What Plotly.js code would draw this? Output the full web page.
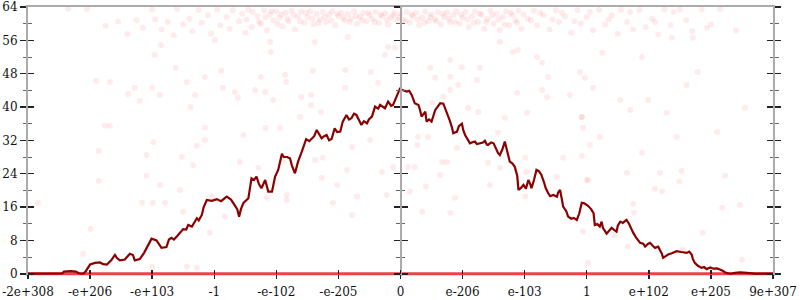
<!DOCTYPE html>
<html>
<head>
<meta charset="utf-8">
<script src="https://cdn.plot.ly/plotly-3.0.1.min.js"></script>
<style>html,body{margin:0;padding:0;background:#fff;}#chart{width:800px;height:300px;}</style>
</head>
<body>
<div id="chart"></div>
<script>
// x tick labels (ordered floating-point axis, evenly spaced positions 0..12)
const xTickLabels = ["-2e+308","-e+206","-e+103","-1","-e-102","-e-205","0","e-206","e-103","1","e+102","e+205","9e+307"];
const xTickPos = [0,1,2,3,4,5,6,7,8,9,10,11,12];
const yMajorTicks = [0,8,16,24,32,40,48,56,64];
const yMinorTicks = [4,12,20,28,36,44,52,60];

// averaged error line [x position, bits of error]
const errLine = [
[0,0],[0.27,0],[0.55,0.1],[0.58,0.5],[0.68,0.6],[0.77,0.5],[0.82,0.1],[0.89,0],[0.93,0.6],
[1.0,2.2],[1.08,2.6],[1.16,2.7],[1.21,2.3],[1.27,2.2],[1.34,3.2],[1.40,4.5],[1.43,3.8],[1.48,3.2],
[1.56,3.4],[1.64,4.8],[1.69,4.5],[1.72,3.2],[1.80,3.5],[1.87,5.0],[1.93,6.7],[1.99,8.4],[2.07,8.0],
[2.11,7.0],[2.15,6.2],[2.23,6.4],[2.27,8.2],[2.31,8.6],[2.35,8.2],[2.40,9.0],[2.45,9.8],[2.50,10.7],
[2.55,10.6],[2.58,11.7],[2.64,11.3],[2.67,12.2],[2.72,13.3],[2.75,12.8],[2.80,14.1],[2.83,16.0],
[2.88,17.7],[2.96,17.5],[3.04,17.9],[3.11,17.4],[3.20,18.5],[3.27,17.8],[3.33,16.5],[3.37,15.5],
[3.40,13.7],[3.43,15.5],[3.47,17.0],[3.55,18.1],[3.58,21.0],[3.60,22.9],[3.64,22.5],[3.68,23.3],
[3.72,21.5],[3.76,20.5],[3.82,22.5],[3.87,19.7],[3.93,19.7],[3.98,23.3],[4.03,24.9],[4.09,28.8],
[4.12,28.0],[4.17,28.0],[4.22,27.7],[4.25,26.0],[4.30,24.1],[4.35,26.9],[4.41,29.3],[4.45,31.0],
[4.48,32.3],[4.53,31.8],[4.57,32.5],[4.61,33.0],[4.65,34.5],[4.69,33.4],[4.73,32.5],[4.77,33.0],
[4.81,33.3],[4.85,32.0],[4.89,32.3],[4.94,34.9],[4.98,34.0],[5.03,34.1],[5.07,36.5],[5.13,38.1],
[5.17,37.0],[5.21,37.3],[5.25,38.4],[5.29,38.1],[5.33,37.0],[5.37,35.7],[5.41,36.6],[5.46,36.1],
[5.49,37.0],[5.54,37.7],[5.59,40.1],[5.64,39.6],[5.67,40.5],[5.72,40.0],[5.75,39.7],[5.80,41.3],
[5.85,40.3],[5.88,40.5],[5.93,42.5],[5.96,43.7],[5.99,44.4],[6.04,44.0],[6.10,43.7],[6.14,43.9],
[6.18,42.9],[6.23,40.9],[6.29,40.5],[6.31,39.5],[6.34,37.7],[6.40,38.9],[6.42,36.5],[6.46,37.0],
[6.50,36.5],[6.56,39.3],[6.59,39.8],[6.64,40.9],[6.69,40.8],[6.74,38.9],[6.77,38.0],[6.80,36.5],
[6.83,35.0],[6.85,33.7],[6.91,34.1],[6.94,35.4],[6.99,36.0],[7.01,34.5],[7.04,33.3],[7.07,32.5],
[7.12,31.3],[7.17,31.6],[7.20,31.7],[7.23,31.1],[7.28,31.3],[7.33,31.5],[7.36,31.9],[7.39,31.0],
[7.41,30.9],[7.46,31.5],[7.50,31.3],[7.54,30.0],[7.57,29.0],[7.60,28.5],[7.64,29.8],[7.68,31.7],
[7.72,29.5],[7.76,26.9],[7.80,26.5],[7.84,25.7],[7.88,23.5],[7.90,20.1],[7.94,20.6],[7.98,21.3],
[8.02,20.4],[8.06,22.5],[8.09,21.5],[8.11,20.5],[8.15,22.5],[8.19,24.9],[8.23,24.6],[8.27,23.7],
[8.31,22.0],[8.34,20.5],[8.38,19.3],[8.41,18.6],[8.46,18.9],[8.52,18.5],[8.54,19.5],[8.57,20.1],
[8.60,17.8],[8.62,16.1],[8.67,15.0],[8.70,13.7],[8.75,13.2],[8.79,13.4],[8.84,12.9],[8.88,14.5],
[8.92,17.0],[8.96,16.9],[9.02,16.3],[9.07,15.5],[9.11,14.5],[9.13,11.7],[9.17,11.9],[9.21,11.3],
[9.24,12.5],[9.26,11.0],[9.32,9.6],[9.36,10.2],[9.40,11.0],[9.44,10.5],[9.48,10.1],[9.50,11.5],
[9.54,12.5],[9.58,12.2],[9.64,12.9],[9.68,12.0],[9.71,11.0],[9.75,9.8],[9.79,8.8],[9.86,7.4],
[9.91,7.2],[9.94,6.5],[9.99,7.2],[10.02,7.4],[10.07,6.6],[10.10,6.2],[10.15,6.5],[10.18,5.8],
[10.21,4.8],[10.23,3.8],[10.28,4.3],[10.31,4.6],[10.37,4.9],[10.45,5.4],[10.52,5.2],[10.61,5.0],
[10.65,5.3],[10.69,4.6],[10.71,3.5],[10.74,2.6],[10.79,1.9],[10.85,1.4],[10.89,1.6],[10.93,1.1],
[10.99,1.5],[11.04,1.2],[11.10,1.3],[11.15,1.0],[11.19,0.7],[11.23,0.3],[11.31,0],[11.39,0.2],
[11.47,0.3],[11.58,0.2],[11.63,0.1],[11.71,0],[12,0]
];

// second series: zero error everywhere
const zeroLineX = [0,2,4,6,8,10,12];
const zeroLineY = [0,0,0,0,0,0,0];

// individual sampled points [x position, bits of error]
const samplePts = [
[0.65,63.6],[0.95,63.5],[1.25,59.5],[1.45,60.5],[1.6,57.5],[1.75,60.8],[1.85,59.0],[2.0,63.4],
[2.05,61.0],[2.15,58.6],[2.25,60.4],[2.35,57.2],[2.4,63.5],[2.5,59.8],[2.6,61.2],[2.65,58.2],
[2.75,63.3],[2.8,60.2],[2.9,62.0],[2.95,57.6],[3.05,63.4],[3.1,59.6],[3.2,61.6],[3.25,58.8],
[3.3,63.2],[3.4,60.6],[3.45,62.4],[3.5,57.8],[3.55,63.3],[3.6,59.2],[3.7,61.8],[3.75,60.0],
[3.8,63.2],[3.85,58.4],[3.9,62.2],[3.95,60.8],
[4.0,63.0],[4.05,61.4],[4.1,59.4],[4.15,62.6],[4.2,60.6],[4.25,63.1],[4.3,58.6],[4.35,61.8],
[4.4,62.9],[4.45,60.2],[4.5,61.6],[4.55,63.0],[4.6,59.8],[4.65,62.4],[4.7,61.0],[4.75,62.8],
[4.8,60.4],[4.85,62.2],[4.9,63.0],[4.95,59.6],[5.0,61.8],[5.05,62.7],[5.1,60.8],[5.15,62.3],
[5.2,61.2],[5.25,62.9],[5.3,60.0],[5.35,61.6],[5.4,62.6],[5.45,60.6],[5.5,62.0],[5.55,61.2],
[5.6,62.8],[5.65,60.2],[5.7,61.8],[5.75,62.5],[5.8,59.8],[5.85,61.4],[5.9,62.6],[5.95,60.8],
[6.0,62.4],[6.05,61.0],[6.1,62.8],[6.15,60.2],[6.2,61.8],[6.25,62.6],[6.3,59.6],[6.35,61.4],
[6.4,62.9],[6.45,60.6],[6.5,62.2],[6.55,61.0],[6.6,62.8],[6.65,59.8],[6.7,61.6],[6.75,62.7],
[6.8,60.4],[6.85,62.0],[6.9,63.0],[6.95,60.0],[7.0,61.4],[7.05,62.8],[7.1,59.2],[7.15,61.8],
[7.2,63.0],[7.25,60.4],[7.3,62.2],[7.35,58.8],[7.4,61.2],[7.45,63.1],[7.5,60.0],[7.55,62.4],
[7.6,58.4],[7.65,61.6],[7.7,63.0],[7.75,59.6],[7.8,62.0],[7.85,60.8],[7.9,63.1],[7.95,58.8],
[8.05,61.2],[8.15,63.1],[8.2,59.6],[8.3,62.0],[8.4,58.6],[8.5,63.2],[8.55,60.4],[8.65,61.8],
[8.75,57.8],[8.85,63.2],[8.9,60.0],[9.0,61.6],[9.1,58.4],[9.2,63.3],[9.3,59.8],[9.4,62.0],
[9.5,57.6],[9.55,63.3],[9.65,60.4],[9.75,58.6],[9.85,63.3],[9.95,59.2],[10.05,61.2],[10.15,57.4],
[10.25,63.4],[10.35,59.6],[10.5,63.4],[10.6,60.8],[10.7,58.2],[10.85,63.4],[11.0,59.8],[11.15,63.5],
[11.4,58.4],
[3.52,61.0],[3.62,62.8],[3.72,60.4],[3.82,61.6],[3.92,63.0],[4.02,60.0],[4.08,62.2],[4.18,61.2],
[4.28,62.0],[4.38,60.6],[4.48,62.6],[4.58,61.2],[4.68,60.2],[4.78,61.6],[4.88,60.8],[4.98,62.4],
[5.08,61.4],[5.18,60.4],[5.28,61.8],[5.38,60.8],[5.48,62.6],[5.58,60.4],[5.68,62.2],[5.78,61.0],
[5.88,62.0],[5.98,61.6],[6.08,60.6],[6.18,62.2],[6.28,61.0],[6.38,60.2],[6.48,61.6],[6.58,60.6],
[6.68,62.4],[6.78,61.2],[6.88,60.4],[6.98,62.2],[7.08,61.0],[7.18,60.2],[7.28,62.4],[7.38,60.4],
[7.48,62.0],[7.58,61.0],[7.68,59.8],[7.78,62.6],[7.88,60.2],[7.98,62.2],[8.1,60.8],[8.25,62.6],
[8.45,61.0],[8.6,62.6],[8.8,60.6],[9.05,62.8],[9.35,61.0],[9.7,62.8],[10.1,60.4],[10.4,62.8],
[2.04,52.5],[2.14,54.9],[2.38,49.4],[1.10,46.3],[1.32,46.0],[1.72,44.6],[2.0,44.6],[1.61,43.1],
[1.80,41.5],[2.12,42.9],[2.56,46.0],[2.62,40.0],[2.69,42.9],[2.85,47.2],[3.11,48.7],[3.14,44.6],
[3.33,43.6],[3.38,42.2],[3.66,44.1],[3.75,47.2],[3.82,43.6],[3.91,53.2],[3.95,41.7],[4.14,47.7],
[4.16,46.0],[4.40,42.4],[4.56,42.9],[4.59,48.7],[4.56,40.5],[4.38,37.6],[4.72,38.8],[5.11,48.9],
[5.11,44.6],[5.15,56.8],[5.52,48.4],[5.64,45.8],[5.75,52.5],[5.91,54.2],[1.24,35.5],[1.32,35.5],
[2.85,35.0],[3.83,35.0],[3.01,56.1],[3.90,55.6],[4.62,55.6],[5.80,54.4],
[6.48,49.4],[6.56,47.0],[6.80,51.3],[6.80,47.2],[6.99,49.6],[6.93,45.3],[6.80,44.1],[7.28,49.4],
[7.23,46.5],[6.69,42.4],[6.51,41.0],[7.09,39.8],[7.60,55.6],[7.81,53.2],[7.89,53.7],[8.20,52.0],
[8.28,50.6],[8.38,47.2],[8.28,44.1],[8.36,42.4],[7.88,43.4],[7.68,37.4],[8.04,38.6],[8.73,42.9],
[8.89,48.4],[8.97,47.0],[8.92,37.6],[9.10,44.6],[9.25,53.0],[9.54,41.7],[9.70,39.3],[9.89,52.0],
[9.99,41.7],[10.29,38.6],[10.61,45.3],[10.79,48.4],[11.10,34.0],[11.55,39.8],[10.71,56.6],[10.94,59.0],
[10.37,56.6],[9.21,32.8],[10.45,32.8],[6.28,32.8],
[1.14,29.5],[1.14,22.3],[1.91,28.5],[2.02,31.6],[1.91,23.5],[2.13,21.3],[2.45,20.1],[2.48,28.0],
[2.72,30.7],[2.66,26.1],[1.84,17.0],[2.01,17.0],[2.21,17.0],[2.50,14.9],[1.01,10.8],[0.89,4.8],
[0.16,17.0],[2.0,1.7],[2.56,1.7],[2.72,1.4],[2.96,18.5],[2.93,9.8],
[2.85,32.1],[3.47,33.3],[3.41,26.8],[3.71,25.4],[4.06,35.0],[4.11,27.3],[3.85,18.2],[4.17,18.9],
[4.17,17.7],[4.62,27.3],[4.75,27.8],[4.73,23.0],[4.98,21.3],[5.22,30.4],[5.30,18.5],[5.14,24.9],
[5.51,32.1],[5.70,24.4],[5.88,25.6],[5.78,18.9],[5.22,14.1],[4.91,17.0],[3.17,13.7],
[6.12,25.6],[6.23,25.6],[6.15,19.7],[6.27,30.9],[6.44,32.8],[6.41,20.9],[6.64,23.7],[6.67,26.8],
[6.75,26.8],[6.88,18.2],[6.91,30.2],[7.25,38.8],[7.44,21.3],[7.60,25.4],[7.41,26.6],[7.57,33.8],
[8.01,27.8],[8.03,24.4],[8.01,18.5],[8.52,23.2],[8.62,27.8],[8.92,37.6],[8.94,35.0],[9.02,22.5],
[9.05,30.9],[8.92,28.3],[6.35,14.9],[6.80,14.6],
[9.89,29.0],[9.65,24.2],[10.18,24.2],[10.53,24.7],[10.49,22.1],[10.10,20.4],[10.21,19.7],[11.23,23.5],
[9.0,22.5],[9.75,16.8],[9.76,14.6],[11.18,15.8],[11.47,16.5],[10.87,9.8],[8.94,10.1],[9.66,6.5],
[10.55,5.8],[11.50,3.4],[9.45,9.3],[9.02,2.6]
];

const tickFont = {family: "DejaVu Serif, serif", size: 12, color: "#111"};
const axisGray = "#ababab";

// small padding below 0 so the zero series is not clipped
const yPadBelow = 0.55;
const xRange = [xTickPos[0], xTickPos[xTickPos.length - 1]];
const yRange = [yMajorTicks[0] - yPadBelow, yMajorTicks[yMajorTicks.length - 1]];
const xAxisPos = yPadBelow / (yRange[1] - yRange[0]);

const traces = [
  {type: "scatter", mode: "markers", x: samplePts.map(p => p[0]), y: samplePts.map(p => p[1]),
   marker: {size: 6, color: "rgba(255,0,0,0.08)", line: {width: 0}}, hoverinfo: "skip", xaxis: "x", yaxis: "y"},
  {type: "scatter", mode: "lines", x: zeroLineX, y: zeroLineY,
   line: {color: "rgba(232,35,40,0.85)", width: 3}, hoverinfo: "skip", xaxis: "x", yaxis: "y"},
  {type: "scatter", mode: "lines", x: errLine.map(p => p[0]), y: errLine.map(p => p[1]),
   line: {color: "#8b0000", width: 2.2}, hoverinfo: "skip", xaxis: "x", yaxis: "y"},
  {type: "scatter", x: [], y: [], xaxis: "x2", yaxis: "y", hoverinfo: "skip"},
  {type: "scatter", x: [], y: [], xaxis: "x3", yaxis: "y", hoverinfo: "skip"},
  {type: "scatter", x: [], y: [], xaxis: "x", yaxis: "y2", hoverinfo: "skip"},
  {type: "scatter", x: [], y: [], xaxis: "x", yaxis: "y3", hoverinfo: "skip"},
  {type: "scatter", x: [], y: [], xaxis: "x", yaxis: "y4", hoverinfo: "skip"}
];

function yAx(extra, tickSide) {
  return Object.assign({
    range: yRange, tickmode: "array", tickvals: yMajorTicks, ticks: tickSide, ticklen: 6, tickwidth: 1.6, tickcolor: "#222",
    minor: {tickmode: "array", tickvals: yMinorTicks, ticks: tickSide, ticklen: 3.5, tickwidth: 1, tickcolor: "#666"},
    showgrid: false, zeroline: false, showline: true, linecolor: axisGray, linewidth: 2,
    tickfont: tickFont, fixedrange: true
  }, extra);
}

const layout = {
  width: 800, height: 300,
  margin: {l: 28, r: 27, t: 7, b: 24, pad: 0},
  paper_bgcolor: "#fff", plot_bgcolor: "#fff",
  showlegend: false,
  xaxis: {range: xRange, anchor: "free", position: xAxisPos, tickmode: "array", tickvals: xTickPos, ticktext: xTickLabels,
    ticks: "outside", ticklen: 4, tickwidth: 1.4, tickcolor: "#222", ticklabelstandoff: 3,
    showgrid: false, zeroline: false, showline: false,
    tickfont: tickFont, fixedrange: true},
  xaxis2: {range: xRange, overlaying: "x", anchor: "free", position: xAxisPos, tickmode: "array", tickvals: xTickPos,
    ticks: "inside", ticklen: 4, tickwidth: 1.4, tickcolor: "#222", showticklabels: false,
    showgrid: false, zeroline: false, showline: false, fixedrange: true},
  xaxis3: {range: xRange, overlaying: "x", anchor: "y", side: "top", ticks: "", showticklabels: false,
    showgrid: false, zeroline: false, showline: true, linecolor: axisGray, linewidth: 2, fixedrange: true},
  yaxis: yAx({mirror: "ticks"}, "outside"),
  yaxis2: yAx({overlaying: "y", anchor: "x", mirror: "ticks", showticklabels: false}, "inside"),
  yaxis3: yAx({overlaying: "y", anchor: "free", position: 0.5, showticklabels: false}, "outside"),
  yaxis4: yAx({overlaying: "y", anchor: "free", position: 0.5, showticklabels: false}, "inside")
};

Plotly.newPlot("chart", traces, layout, {displayModeBar: false, staticPlot: true});
</script>
</body>
</html>
